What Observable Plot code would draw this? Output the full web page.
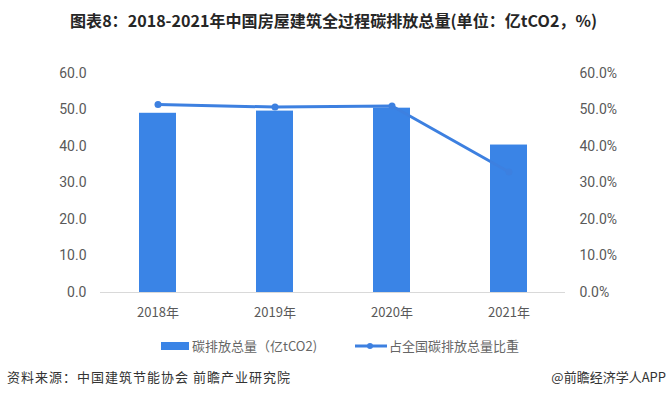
<!DOCTYPE html>
<html><head><meta charset="utf-8">
<script src="https://cdn.jsdelivr.net/npm/d3@7"></script>
<script src="https://cdn.jsdelivr.net/npm/@observablehq/plot@0.6"></script>
<style>
body{margin:0;background:#fff;font-family:"Noto Sans CJK SC","Noto Sans",sans-serif;}
#wrap{position:relative;width:667px;height:397px;overflow:hidden;}
#title{position:absolute;top:8px;left:70px;white-space:nowrap;font-weight:bold;font-size:16px;color:#262626;transform-origin:0 50%;}
#chart{position:absolute;top:50px;left:0;}
.lg{position:absolute;display:flex;align-items:center;font-size:13px;color:#666;white-space:nowrap;line-height:16px;}
#foot1{position:absolute;top:368px;left:7px;font-size:13px;color:#333;letter-spacing:1px;white-space:nowrap;line-height:18px;}
#foot2{position:absolute;top:368px;right:1px;font-size:13px;color:#333;white-space:nowrap;line-height:18px;}
</style></head>
<body><div id="wrap">
<div id="title">图表8：2018-2021年中国房屋建筑全过程碳排放总量(单位：亿tCO2，%)</div>
<div id="chart"></div>
<div class="lg" style="left:161px;top:338px;"><span style="display:inline-block;width:28px;height:8px;background:#3A84E6;margin-right:3px;"></span><span id="l1"></span></div>
<div class="lg" style="left:355px;top:338px;"><svg width="32" height="10" style="margin-right:2px"><line x1="0" y1="5" x2="32" y2="5" stroke="#3D80E0" stroke-width="3"/><circle cx="15" cy="5" r="3" fill="#3D80E0"/></svg><span id="l2"></span></div>
<div id="foot1">资料来源：中国建筑节能协会 前瞻产业研究院</div>
<div id="foot2">@前瞻经济学人APP</div>
</div>
<script>
const years = ["2018年","2019年","2020年","2021年"];
const emissions = [49.1, 49.7, 50.5, 40.4];
const shares = [51.5, 50.8, 51.1, 33.0];
const leftTicks = [0,10,20,30,40,50,60];
const seriesNames = ["碳排放总量（亿tCO2)","占全国碳排放总量比重"];
document.getElementById("l1").textContent = seriesNames[0];
document.getElementById("l2").textContent = seriesNames[1];

const t = document.getElementById("title");
const tw = t.getBoundingClientRect().width;
t.style.transform = `scaleX(${527/tw})`;

const data = years.map((y,i)=>({year:y, emission:emissions[i], share:shares[i]}));
const barColor = "#3A84E6", lineColor = "#3D80E0";

const chart = Plot.plot({
  width:667, height:270,
  marginLeft:100, marginRight:102, marginTop:23, marginBottom:28,
  style:{fontFamily:"Roboto, 'Noto Sans', sans-serif", fontSize:"13px", color:"#595959", background:"transparent"},
  x:{domain:years, paddingInner:0.684, paddingOuter:0.329, label:null},
  y:{domain:[0,60], label:null},
  marks:[
    Plot.barY(data,{x:"year", y:"emission", fill:barColor}),
    Plot.ruleY([0],{stroke:"#d9d9d9", strokeWidth:1}),
    Plot.line(data,{x:"year", y:"share", stroke:lineColor, strokeWidth:3}),
    Plot.dot(data,{x:"year", y:"share", fill:lineColor, r:3.5}),
    Plot.axisX({tickSize:0, tickPadding:15, fontSize:13, fill:"#595959", fontFamily:"'Noto Sans CJK SC', sans-serif"}),
    Plot.axisY({ticks:leftTicks, anchor:"left", tickSize:0, tickPadding:14, tickFormat:d=>d.toFixed(1), fontSize:14, fill:"#595959"}),
    Plot.axisY({ticks:leftTicks, anchor:"right", tickSize:0, tickPadding:14, tickFormat:d=>d.toFixed(1)+"%", fontSize:14, fill:"#595959", textAnchor:"start"})
  ]
});
document.getElementById("chart").appendChild(chart);
</script>
</body></html>
